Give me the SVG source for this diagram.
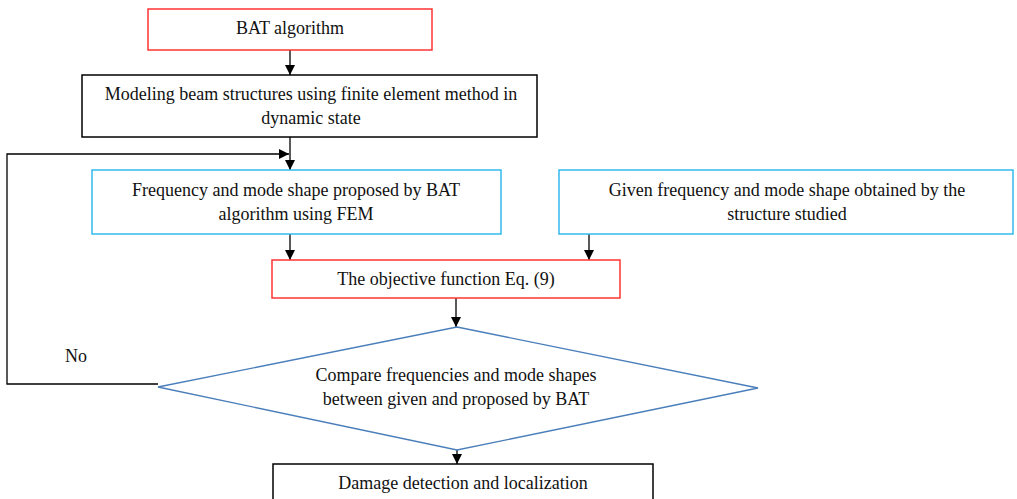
<svg xmlns="http://www.w3.org/2000/svg" width="1017" height="499" viewBox="0 0 1017 499">
<style>
text{font-family:"Liberation Serif","Times New Roman",serif;font-size:18px;fill:#111;text-anchor:middle}
.red{fill:#fff;stroke:#ff3333;stroke-width:1.5}
.blk{fill:#fff;stroke:#000;stroke-width:1.5}
.cyan{fill:#fff;stroke:#33bbee;stroke-width:1.5}
.dia{fill:#fff;stroke:#4a7ebb;stroke-width:1.3}
.c{fill:none;stroke:#000;stroke-width:1.3}
</style>
<defs>
<marker id="ah" viewBox="0 0 10 10" refX="10" refY="5" markerWidth="10" markerHeight="10" markerUnits="userSpaceOnUse" orient="auto">
<path d="M0,0 L10,5 L0,10 Z" fill="#000"/>
</marker>
</defs>
<rect width="1017" height="499" fill="#fff"/>
<g id="connectors">
<line class="c" x1="290" y1="50" x2="290" y2="75" marker-end="url(#ah)"/>
<line class="c" x1="290" y1="137" x2="290" y2="170" marker-end="url(#ah)"/>
<polyline class="c" points="158,384 7,384 7,154 289,154" marker-end="url(#ah)"/>
<line class="c" x1="290" y1="234" x2="290" y2="260" marker-end="url(#ah)"/>
<line class="c" x1="589" y1="234" x2="589" y2="260" marker-end="url(#ah)"/>
<line class="c" x1="456" y1="298" x2="456" y2="327" marker-end="url(#ah)"/>
<line class="c" x1="457" y1="450" x2="457" y2="464" marker-end="url(#ah)"/>
<text x="76" y="362">No</text>
</g>
<g id="bat">
<rect class="red" x="148" y="9" width="284" height="41"/>
<text x="290" y="34">BAT algorithm</text>
</g>
<g id="modeling">
<rect class="blk" x="82" y="75" width="455" height="62"/>
<text x="311" y="100">Modeling beam structures using finite element method in</text>
<text x="311" y="124">dynamic state</text>
</g>
<g id="proposed">
<rect class="cyan" x="92" y="170" width="409" height="64"/>
<text x="296" y="196">Frequency and mode shape proposed by BAT</text>
<text x="296" y="220">algorithm using FEM</text>
</g>
<g id="given">
<rect class="cyan" x="559" y="170" width="454" height="64"/>
<text x="787" y="196">Given frequency and mode shape obtained by the</text>
<text x="787" y="220">structure studied</text>
</g>
<g id="objective">
<rect class="red" x="272" y="260" width="348" height="38"/>
<text x="446" y="285">The objective function Eq. (9)</text>
</g>
<g id="compare">
<polygon class="dia" points="457,327 758,388 457,450 158,387"/>
<text x="456" y="381">Compare frequencies and mode shapes</text>
<text x="456" y="405">between given and proposed by BAT</text>
</g>
<g id="damage">
<rect class="blk" x="273" y="464" width="380" height="45"/>
<text x="463" y="489">Damage detection and localization</text>
</g>
</svg>
